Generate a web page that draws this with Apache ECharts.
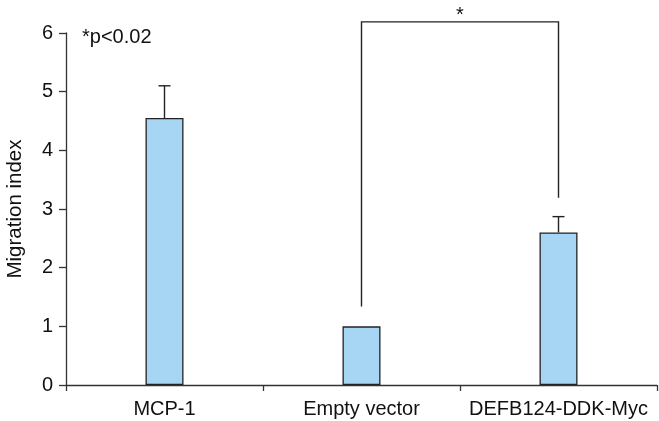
<!DOCTYPE html>
<html><head><meta charset="utf-8">
<script src="https://cdn.jsdelivr.net/npm/echarts@6/dist/echarts.min.js"></script>
<style>html,body{margin:0;padding:0;background:#fff}#c{width:659px;height:421px}</style>
</head><body><div id="c"></div>
<script>
const categories = ['MCP-1', 'Empty vector', 'DEFB124-DDK-Myc'];
const means = [4.55, 1.0, 2.6];
const errUpper = [5.1, null, 2.87];
const yTicks = [0, 1, 2, 3, 4, 5, 6];
// significance bracket: [leftCat, rightCat, leftBottom, top, rightBottom]
const bracket = [1, 2, 1.34, 6.19, 3.19];
const bracketLabel = '*';
const pNote = '*p<0.02';

const FONT = 'Liberation Sans';
const chart = echarts.init(document.getElementById('c'));
chart.setOption({
  animation: false,
  grid: { left: 66, right: 2, top: 33, bottom: 36, containLabel: false, outerBoundsMode: 'none' },
  xAxis: {
    type: 'category', data: categories,
    axisLine: { lineStyle: { color: '#333', width: 1.3 } },
    axisTick: { show: true, interval: 0, length: 6, lineStyle: { color: '#333', width: 1.3 } },
    axisLabel: { interval: 0, color: '#111', fontSize: 20, fontFamily: FONT, margin: 14 }
  },
  yAxis: {
    type: 'value', min: yTicks[0], max: yTicks[yTicks.length - 1], interval: 1,
    name: 'Migration index', nameLocation: 'middle', nameGap: 40,
    nameTextStyle: { color: '#111', fontSize: 20.5, fontFamily: FONT },
    axisLine: { show: true, lineStyle: { color: '#333', width: 1.3 } },
    axisTick: { show: true, length: 7, lineStyle: { color: '#333', width: 1.3 } },
    axisLabel: { color: '#111', fontSize: 20, fontFamily: FONT, margin: 13 },
    splitLine: { show: false }
  },
  graphic: [{
    type: 'text', left: 82, top: 27,
    style: { text: pNote, fontSize: 20, fontFamily: FONT, fill: '#111' }
  }],
  series: [
    {
      type: 'bar', data: means, barWidth: 38,
      itemStyle: { color: '#a6d6f3', borderColor: '#222', borderWidth: 1.3 },
      z: 2
    },
    {
      type: 'custom', clip: false, z: 3,
      data: means.map((m, i) => [i, m, errUpper[i]]),
      renderItem: function (params, api) {
        const up = api.value(2);
        if (up == null || isNaN(up)) return null;
        const p0 = api.coord([api.value(0), api.value(1)]);
        const p1 = api.coord([api.value(0), up]);
        const st = { stroke: '#222', lineWidth: 1.4 };
        return { type: 'group', children: [
          { type: 'line', shape: { x1: p0[0], y1: p0[1], x2: p1[0], y2: p1[1] }, style: st },
          { type: 'line', shape: { x1: p1[0] - 6, y1: p1[1], x2: p1[0] + 6, y2: p1[1] }, style: st }
        ]};
      }
    },
    {
      type: 'custom', clip: false, z: 3,
      data: [bracket],
      renderItem: function (params, api) {
        const a = api.coord([api.value(0), api.value(2)]);
        const b = api.coord([api.value(0), api.value(3)]);
        const c = api.coord([api.value(1), api.value(3)]);
        const d = api.coord([api.value(1), api.value(4)]);
        return { type: 'group', children: [
          { type: 'polyline', shape: { points: [a, b, c, d] }, style: { stroke: '#222', lineWidth: 1.4, fill: null } },
          { type: 'text', x: (b[0] + c[0]) / 2, y: b[1] - 16,
            style: { text: bracketLabel, fontSize: 20, fontFamily: FONT, fill: '#111', align: 'center', verticalAlign: 'top' } }
        ]};
      }
    }
  ]
});
</script></body></html>
